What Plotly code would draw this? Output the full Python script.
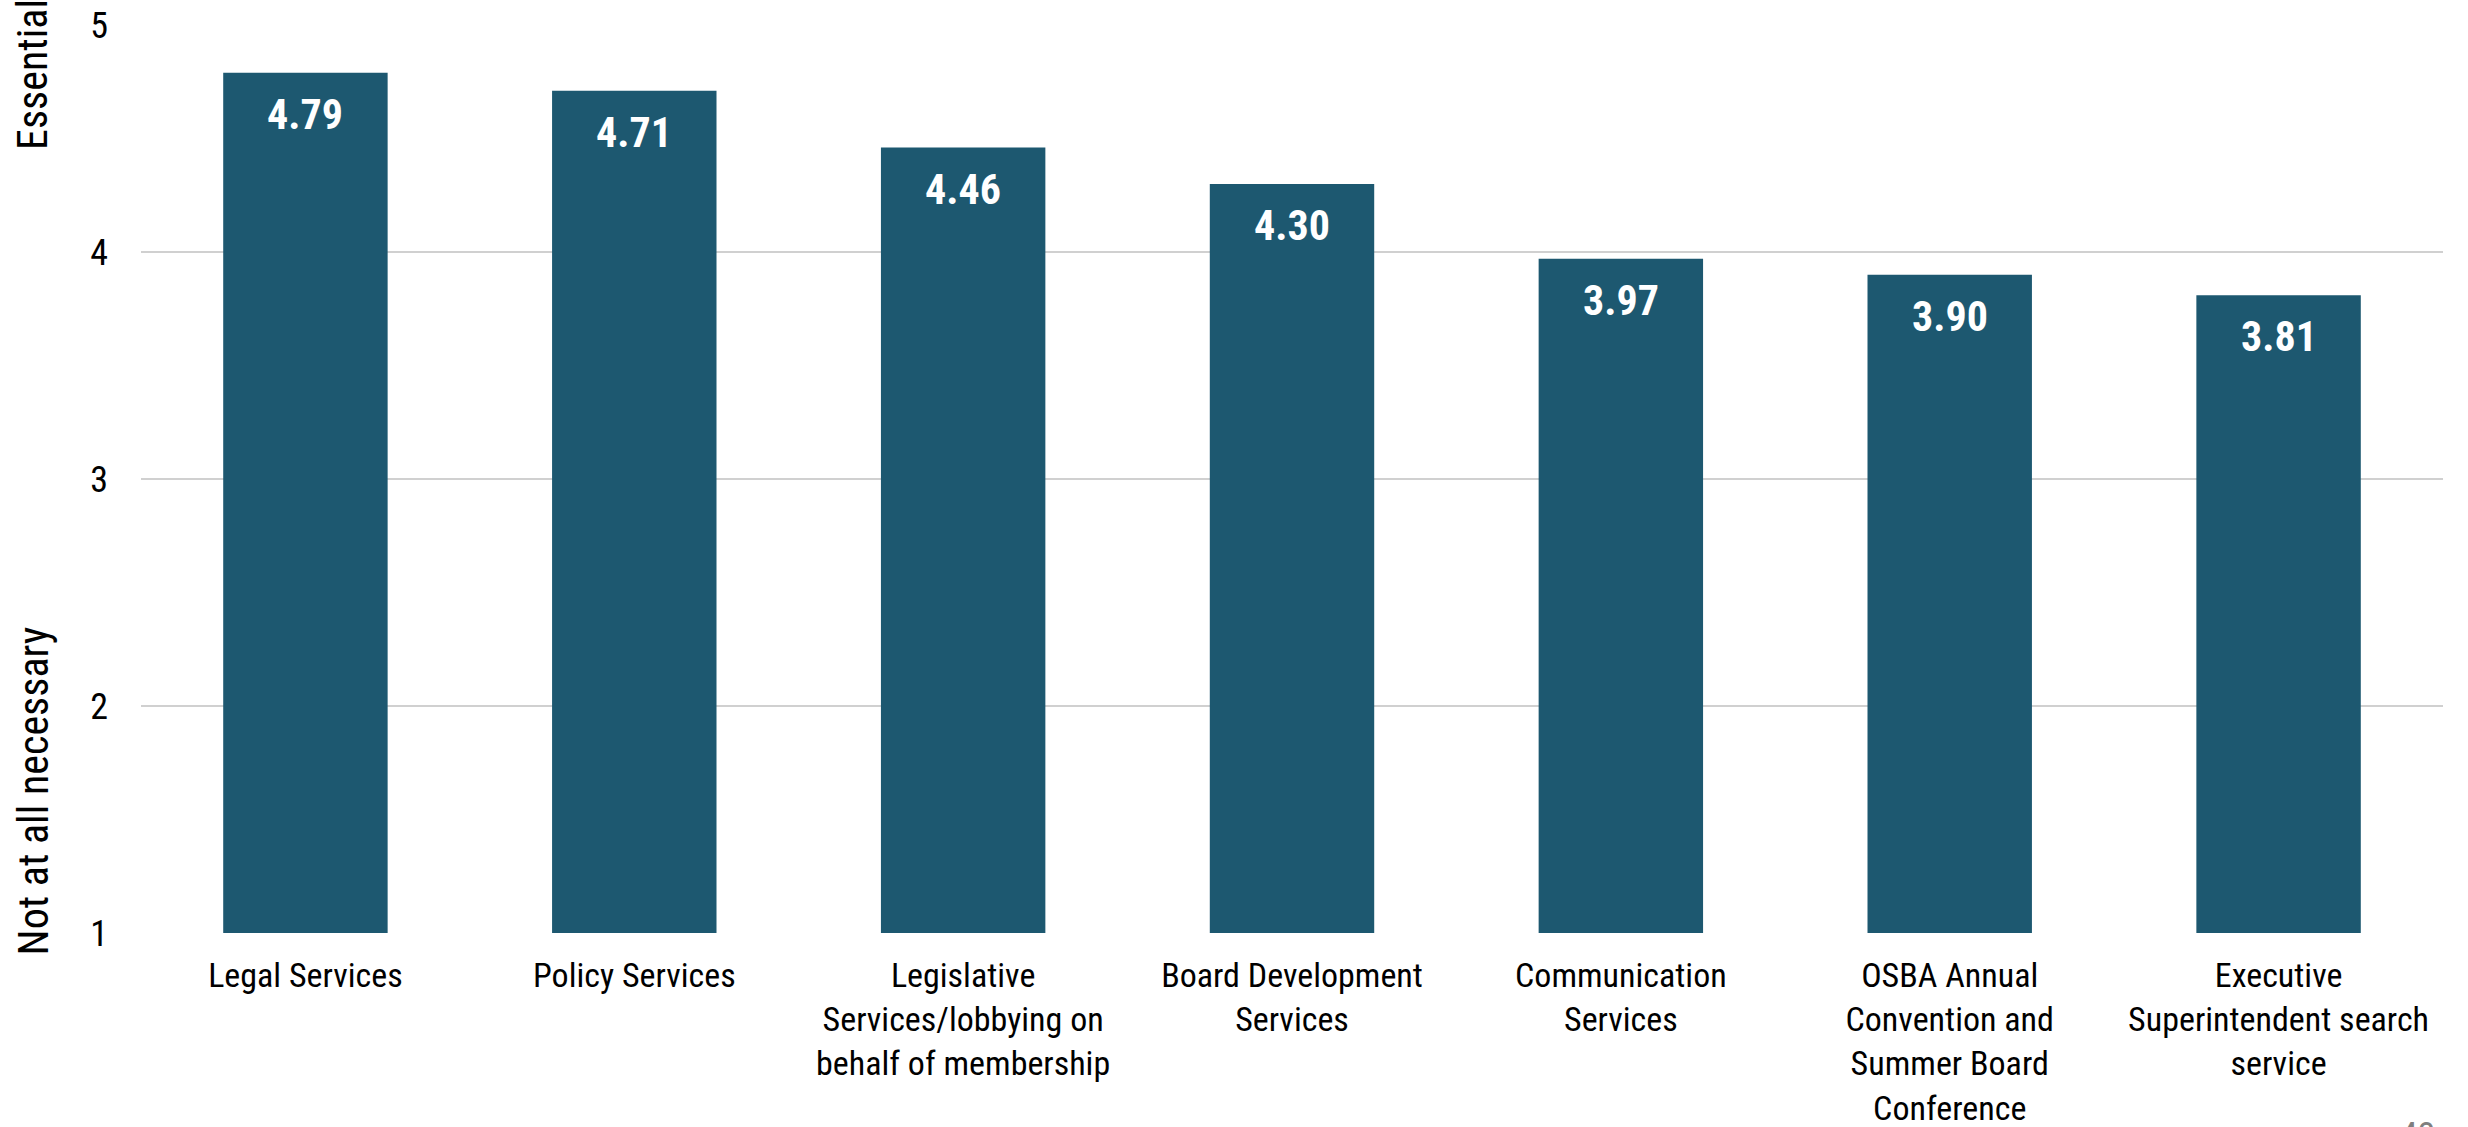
import plotly.graph_objects as go

# Mean importance rating for each member service (1 = not at all necessary, 5 = essential)
categories = [
    "Legal Services",
    "Policy Services",
    "Legislative<br>Services/lobbying on<br>behalf of membership",
    "Board Development<br>Services",
    "Communication<br>Services",
    "OSBA Annual<br>Convention and<br>Summer Board<br>Conference",
    "Executive<br>Superintendent search<br>service",
]
ratings = [4.79, 4.71, 4.46, 4.30, 3.97, 3.90, 3.81]
y_ticks = [1, 2, 3, 4, 5]
page_number = "43"

NARROW = "Liberation Sans Narrow, Arial Narrow, Roboto Condensed, sans-serif"
BAR_COLOR = "#1D5870"
GRID_COLOR = "#D0D0D0"

fig = go.Figure(
    go.Bar(
        x=categories,
        y=ratings,
        width=0.5,
        marker=dict(color=BAR_COLOR, line=dict(width=0)),
        cliponaxis=True,
        hovertemplate="%{y:.2f}<extra></extra>",
    )
)

# Value labels just inside the top of each bar
for cat, val in zip(categories, ratings):
    fig.add_annotation(
        x=cat, y=val,
        xref="x", yref="y",
        text=f"{val:.2f}",
        showarrow=False,
        xanchor="center", yanchor="top",
        yshift=-15,
        font=dict(family=NARROW, size=42, color="white", weight="bold"),
    )

fig.update_layout(
    width=2468,
    height=1127,
    margin=dict(l=141, r=25, t=25, b=194),
    paper_bgcolor="white",
    plot_bgcolor="white",
    showlegend=False,
    font=dict(family=NARROW, color="#000000"),
)

fig.update_yaxes(
    range=[1, 5],
    tickvals=y_ticks,
    ticktext=[str(t) for t in y_ticks],
    tickfont=dict(family=NARROW, size=36, color="#000000"),
    showgrid=True,
    gridcolor=GRID_COLOR,
    gridwidth=1.5,
    zeroline=False,
    showline=False,
    ticks="",
    ticklabelstandoff=32,
    automargin=False,
)

fig.update_xaxes(
    tickfont=dict(family=NARROW, size=34, color="#000000"),
    showline=False,
    showgrid=False,
    ticks="",
    ticklabelstandoff=19,
    automargin=False,
)

# Scale-end captions along the value axis
fig.add_annotation(
    text="Essential",
    xref="paper", yref="paper",
    x=-0.0469, y=0.945,
    xanchor="center", yanchor="middle",
    textangle=-90,
    showarrow=False,
    font=dict(family=NARROW, size=42, color="#000000"),
)
fig.add_annotation(
    text="Not at all necessary",
    xref="paper", yref="paper",
    x=-0.0469, y=0.156,
    xanchor="center", yanchor="middle",
    textangle=-90,
    showarrow=False,
    font=dict(family=NARROW, size=42, color="#000000"),
)

# Slide page number in the bottom-right corner
fig.add_annotation(
    text=page_number,
    xref="paper", yref="paper",
    x=0.998, y=-0.198,
    xanchor="right", yanchor="top",
    showarrow=False,
    font=dict(family=NARROW, size=36, color="#7F7F7F"),
)

fig.write_html("out.html")
